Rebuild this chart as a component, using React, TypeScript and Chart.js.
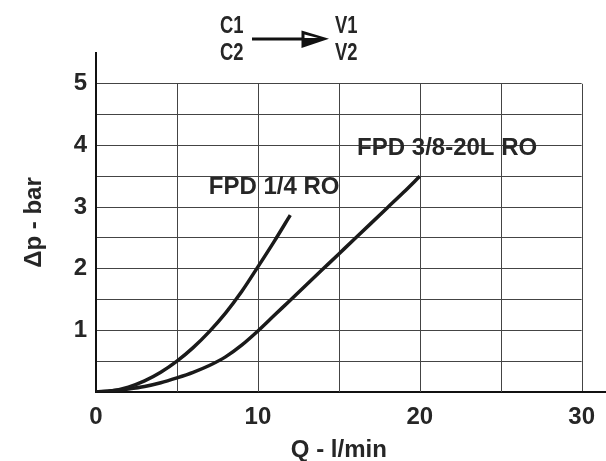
import { useEffect, useRef } from 'react';
import { Chart, registerables } from 'chart.js';

Chart.register(...registerables);

// ---- data ----
const qSmall = [0, 1, 2, 3, 4, 5, 6, 7, 8, 9, 10, 11, 12];
const dpSmall = [0, 0.02, 0.08, 0.18, 0.32, 0.5, 0.72, 0.98, 1.28, 1.63, 2.03, 2.44, 2.87];
const qLarge = [0, 1, 2, 3, 4, 5, 6, 7, 8, 9, 10, 11, 12, 13, 14, 15, 16, 17, 18, 19, 20];
const dpLarge = [0, 0.02, 0.05, 0.09, 0.15, 0.23, 0.32, 0.43, 0.57, 0.76, 0.99, 1.24, 1.49, 1.74, 1.99, 2.24, 2.49, 2.74, 2.99, 3.24, 3.5];
const seriesNames = ['FPD 1/4 RO', 'FPD 3/8-20L RO'];
const xTitle = 'Q - l/min';
const yTitle = 'Δp - bar';
const headerLeft = ['C1', 'C2'];
const headerRight = ['V1', 'V2'];

// ---- layout / style ----
const W = 606;
const H = 461;
const FONT = '"Liberation Sans", Arial, sans-serif';
const TEXT = '#262626';
const GRID = '#444';
const Y_GRID_TOP = 5;
// label anchor positions in data units
const labelPos = [
  { x: 6.97, y: 3.32 },
  { x: 16.13, y: 3.96 },
];

const decor = {
  id: 'decor',
  beforeDatasetsDraw(chart: any) {
    const { ctx, scales } = chart;
    const x = scales.x;
    const y = scales.y;
    ctx.save();
    ctx.strokeStyle = GRID;
    ctx.lineWidth = 1;
    const top = y.getPixelForValue(Y_GRID_TOP);
    const bottom = y.getPixelForValue(0);
    ctx.beginPath();
    x.ticks.forEach((t: any) => {
      if (t.value === 0) return;
      const px = Math.round(x.getPixelForValue(t.value)) + 0.5;
      ctx.moveTo(px, bottom);
      ctx.lineTo(px, top);
    });
    ctx.stroke();
    ctx.restore();
  },
  afterDraw(chart: any) {
    const { ctx, scales } = chart;
    const x = scales.x;
    const y = scales.y;
    ctx.save();
    // x axis extension to the right edge
    ctx.strokeStyle = '#111';
    ctx.lineWidth = 2;
    const y0 = y.getPixelForValue(0);
    ctx.beginPath();
    ctx.moveTo(x.right - 1, y0);
    ctx.lineTo(chart.width, y0);
    ctx.stroke();

    // series labels
    ctx.fillStyle = TEXT;
    ctx.font = `bold 24px ${FONT}`;
    ctx.textAlign = 'left';
    ctx.textBaseline = 'middle';
    seriesNames.forEach((name, i) => {
      ctx.fillText(name, x.getPixelForValue(labelPos[i].x), y.getPixelForValue(labelPos[i].y));
    });

    // header: C1/C2 -> V1/V2 (condensed text)
    ctx.font = `bold 23px ${FONT}`;
    ctx.textBaseline = 'alphabetic';
    const drawNarrow = (s: string, px: number, py: number) => {
      ctx.save();
      ctx.translate(px, py);
      ctx.scale(0.8, 1);
      ctx.fillText(s, 0, 0);
      ctx.restore();
    };
    drawNarrow(headerLeft[0], 220, 33);
    drawNarrow(headerLeft[1], 220, 60);
    drawNarrow(headerRight[0], 335, 33);
    drawNarrow(headerRight[1], 335, 60);
    ctx.strokeStyle = '#111';
    ctx.lineWidth = 3;
    ctx.beginPath();
    ctx.moveTo(252, 39);
    ctx.lineTo(305, 39);
    ctx.stroke();
    ctx.fillStyle = '#111';
    ctx.beginPath();
    ctx.moveTo(301.5, 30.5);
    ctx.lineTo(329, 38.8);
    ctx.lineTo(301.5, 48);
    ctx.closePath();
    ctx.fill();
    ctx.fillStyle = '#fff';
    ctx.beginPath();
    ctx.moveTo(304.5, 34.5);
    ctx.lineTo(318, 38);
    ctx.lineTo(304.5, 38);
    ctx.closePath();
    ctx.fill();
    ctx.restore();
  },
};

export default function App() {
  const ref = useRef<HTMLCanvasElement | null>(null);

  useEffect(() => {
    if (!ref.current) return;
    const lineStyle = {
      borderColor: '#1a1a1a',
      borderWidth: 3.5,
      pointRadius: 0,
      fill: false,
      cubicInterpolationMode: 'monotone' as const,
    };
    const chart = new Chart(ref.current, {
      type: 'line',
      data: {
        datasets: [
          { label: seriesNames[0], data: qSmall.map((q, i) => ({ x: q, y: dpSmall[i] })), ...lineStyle },
          { label: seriesNames[1], data: qLarge.map((q, i) => ({ x: q, y: dpLarge[i] })), ...lineStyle },
        ],
      },
      options: {
        animation: false,
        responsive: false,
        devicePixelRatio: 1,
        layout: { padding: { left: 0, right: 19, top: 53, bottom: 0 } },
        plugins: { legend: { display: false }, tooltip: { enabled: false } },
        scales: {
          x: {
            type: 'linear',
            min: 0,
            max: 30,
            afterFit: (s: any) => {
              s.height = 69;
            },
            ticks: {
              stepSize: 5,
              padding: 11,
              maxTicksLimit: 20,
              autoSkip: false,
              maxRotation: 0,
              color: TEXT,
              font: { family: FONT, size: 24, weight: 'bold' },
              callback: (v: any) => (Number(v) % 10 === 0 ? String(v) : ''),
            },
            grid: { drawOnChartArea: false, drawTicks: false },
            border: { display: true, color: '#111', width: 2 },
            title: {
              display: true,
              text: xTitle,
              color: TEXT,
              font: { family: FONT, size: 24, weight: 'bold', lineHeight: 0.86 },
              padding: { top: 0, bottom: 0 },
            },
          },
          y: {
            type: 'linear',
            min: 0,
            max: 5.5,
            afterFit: (s: any) => {
              s.width = 96;
            },
            ticks: {
              stepSize: 0.5,
              maxTicksLimit: 20,
              autoSkip: false,
              padding: 9,
              color: TEXT,
              font: { family: FONT, size: 24, weight: 'bold' },
              callback: (v: any) => {
                const n = Number(v);
                return Number.isInteger(n) && n >= 1 && n <= 5 ? String(n) : '';
              },
            },
            grid: {
              drawTicks: false,
              lineWidth: 1,
              color: (c: any) => (c.tick && c.tick.value > Y_GRID_TOP ? 'rgba(0,0,0,0)' : GRID),
            },
            border: { display: true, color: '#111', width: 2 },
            title: {
              display: true,
              text: yTitle,
              color: TEXT,
              font: { family: FONT, size: 24, weight: 'bold', lineHeight: 1.2 },
              padding: { top: 20, bottom: 0 },
            },
          },
        },
      },
      plugins: [decor],
    });
    return () => chart.destroy();
  }, []);

  return (
    <div style={{ position: 'absolute', left: 0, top: 0, width: W, height: H, background: '#fff' }}>
      <canvas ref={ref} width={W} height={H} style={{ display: 'block', width: W, height: H }} />
    </div>
  );
}
